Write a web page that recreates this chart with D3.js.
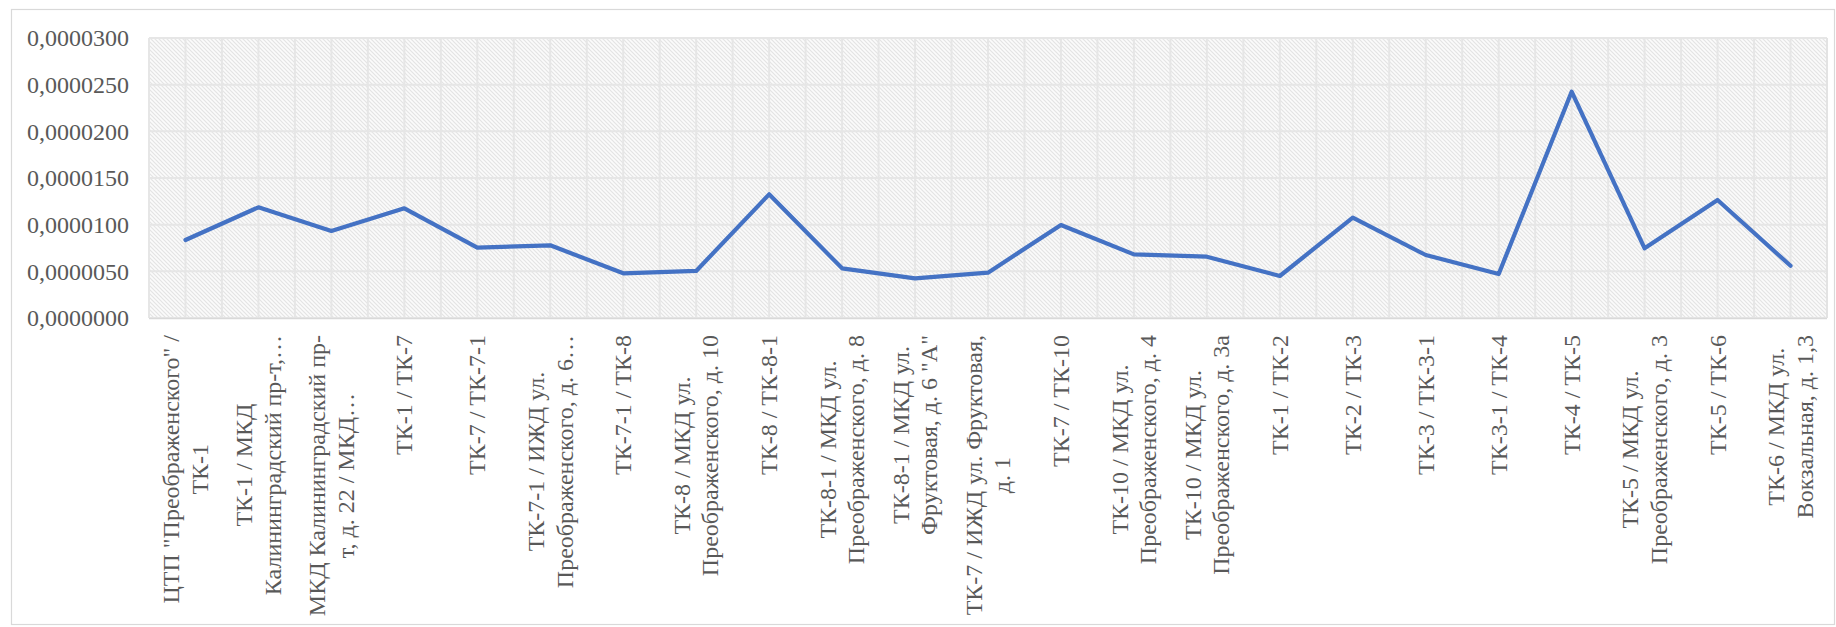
<!DOCTYPE html>
<html>
<head>
<meta charset="utf-8">
<script src="https://cdn.jsdelivr.net/npm/d3@7"></script>
<style>
  html, body { margin: 0; padding: 0; background: #ffffff; }
  svg { display: block; }
  text { font-family: "Liberation Serif", "Times New Roman", serif; fill: #595959; }
</style>
</head>
<body>
<svg id="chart" width="1836" height="627"></svg>
<script>
// Sections of the heat network (line breaks follow the wrapped axis labels)
const categories = [
  "ЦТП \"Преображенского\" /\nТК-1",
  "ТК-1 / МКД\nКалининградский пр-т,…",
  "МКД Калининградский пр-\nт, д. 22 / МКД…",
  "ТК-1 / ТК-7",
  "ТК-7 / ТК-7-1",
  "ТК-7-1 / ИЖД ул.\nПреображенского, д. 6…",
  "ТК-7-1 / ТК-8",
  "ТК-8 / МКД ул.\nПреображенского, д. 10",
  "ТК-8 / ТК-8-1",
  "ТК-8-1 / МКД ул.\nПреображенского, д. 8",
  "ТК-8-1 / МКД ул.\nФруктовая, д. 6 \"А\"",
  "ТК-7 / ИЖД ул. Фруктовая,\nд. 1",
  "ТК-7 / ТК-10",
  "ТК-10 / МКД ул.\nПреображенского, д. 4",
  "ТК-10 / МКД ул.\nПреображенского, д. 3а",
  "ТК-1 / ТК-2",
  "ТК-2 / ТК-3",
  "ТК-3 / ТК-3-1",
  "ТК-3-1 / ТК-4",
  "ТК-4 / ТК-5",
  "ТК-5 / МКД ул.\nПреображенского, д. 3",
  "ТК-5 / ТК-6",
  "ТК-6 / МКД ул.\nВокзальная, д. 1,3"
];

const values = [
  0.00000836, 0.00001186, 0.00000932, 0.00001175, 0.00000753,
  0.00000779, 0.00000479, 0.00000504, 0.00001325, 0.00000532,
  0.00000425, 0.00000486, 0.00000996, 0.00000682, 0.00000657,
  0.00000450, 0.00001075, 0.00000675, 0.00000471, 0.00002425,
  0.00000746, 0.00001264, 0.00000560
];

const yTicks = [0, 0.000005, 0.00001, 0.000015, 0.00002, 0.000025, 0.00003];

const svg = d3.select("#chart");
const W = 1836, H = 627;
const plot = { left: 149, top: 38, right: 1827, bottom: 318 };

// Chart frame
svg.append("rect")
  .attr("x", 11.5).attr("y", 9.5)
  .attr("width", W - 13).attr("height", H - 12)
  .attr("fill", "#ffffff").attr("stroke", "#d9d9d9").attr("stroke-width", 1.2);

// Diagonal hatch fill for the plot area
const defs = svg.append("defs");
const pat = defs.append("pattern")
  .attr("id", "hatch").attr("patternUnits", "userSpaceOnUse")
  .attr("width", 4).attr("height", 4);
pat.append("rect").attr("width", 4).attr("height", 4).attr("fill", "#fbfbfb");
pat.append("path")
  .attr("d", "M-1,-1 L5,5 M-1,3 L1,5 M3,-1 L5,1")
  .attr("stroke", "#e4e4e4").attr("stroke-width", 1.2);

const x = d3.scaleBand().domain(categories).range([plot.left, plot.right]).paddingInner(0).paddingOuter(0);
const y = d3.scaleLinear().domain([0, 0.00003]).range([plot.bottom, plot.top]);
const cx = c => x(c) + x.bandwidth() / 2;

svg.append("rect")
  .attr("x", plot.left).attr("y", plot.top)
  .attr("width", plot.right - plot.left).attr("height", plot.bottom - plot.top)
  .attr("fill", "url(#hatch)");

// Gridlines: vertical at every half category, horizontal at each y tick
const grid = svg.append("g").attr("stroke", "#e6e6e6").attr("stroke-width", 2);
const vx = [];
categories.forEach(c => { vx.push(x(c)); vx.push(cx(c)); });
vx.push(plot.right);
grid.selectAll("line.v").data(vx).join("line")
  .attr("x1", d => d).attr("x2", d => d)
  .attr("y1", plot.top).attr("y2", plot.bottom);
grid.selectAll("line.h").data(yTicks).join("line")
  .attr("x1", plot.left).attr("x2", plot.right)
  .attr("y1", d => y(d)).attr("y2", d => y(d));

// Plot area edges
svg.append("line")
  .attr("x1", plot.left).attr("x2", plot.right)
  .attr("y1", plot.bottom + 0.5).attr("y2", plot.bottom + 0.5)
  .attr("stroke", "#d9d9d9").attr("stroke-width", 1.5);
svg.append("line")
  .attr("x1", plot.right).attr("x2", plot.right)
  .attr("y1", plot.top).attr("y2", plot.bottom)
  .attr("stroke", "#e2e2e2").attr("stroke-width", 1.5);

// Y axis
const ruLocale = d3.formatLocale({ decimal: ",", thousands: " ", grouping: [3], currency: ["", " ₽"] });
const yAxis = d3.axisLeft(y).tickValues(yTicks).tickFormat(ruLocale.format(".7f")).tickSize(0).tickPadding(20);
const yg = svg.append("g").attr("transform", `translate(${plot.left},0)`).call(yAxis);
yg.select(".domain").remove();
yg.selectAll("text").attr("font-size", 24).attr("fill", "#595959")
  .style("font-family", "'Liberation Serif', serif");

// X axis with rotated, wrapped labels
const xAxis = d3.axisBottom(x).tickSize(0).tickFormat(() => "");
const xg = svg.append("g").attr("transform", `translate(0,${plot.bottom})`).call(xAxis);
xg.select(".domain").remove();

const labelTop = 335;
const lineGap = 28.5;
const lab = svg.append("g").attr("class", "xlabels");
categories.forEach(c => {
  const lines = c.split("\n");
  const g = lab.append("g");
  const t = g.append("text")
    .attr("font-size", 24)
    .attr("text-anchor", "middle")
    .attr("transform", "rotate(-90)");
  const n = lines.length;
  lines.forEach((ln, i) => {
    t.append("tspan")
      .attr("x", 0)
      .attr("y", (i - (n - 1) / 2) * lineGap + 8)
      .text(ln);
  });
  let maxW = 0;
  t.selectAll("tspan").each(function () { maxW = Math.max(maxW, this.getComputedTextLength()); });
  g.attr("transform", `translate(${cx(c)},${labelTop + maxW / 2})`);
});

// Data line
const line = d3.line()
  .x((d, i) => cx(categories[i]))
  .y(d => y(d));
svg.append("path")
  .datum(values)
  .attr("d", line)
  .attr("fill", "none")
  .attr("stroke", "#4472c4")
  .attr("stroke-width", 4.2)
  .attr("stroke-linejoin", "round")
  .attr("stroke-linecap", "round");
</script>
</body>
</html>
